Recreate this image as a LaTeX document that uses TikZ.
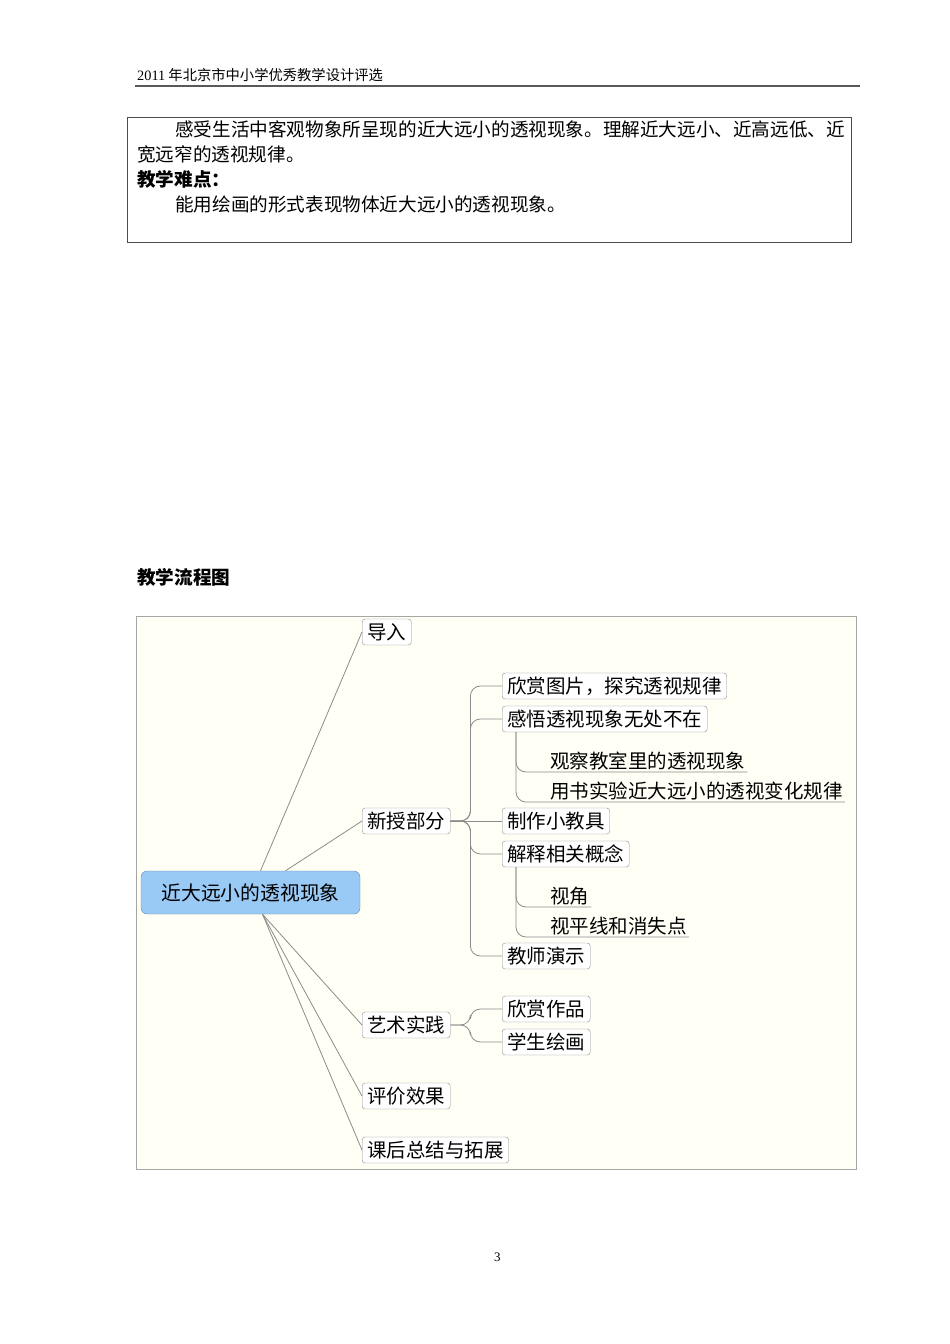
\documentclass[tikz,border=0pt]{standalone}
\usepackage{fontspec}
\setmainfont{Noto Sans CJK SC}
\newfontfamily\hdfont{Liberation Serif}
\definecolor{mapbg}{HTML}{FFFFF6}
\definecolor{rootblue}{HTML}{99C9F5}
\definecolor{linegray}{HTML}{8C8C8C}
\begin{document}
\begin{tikzpicture}[x=1pt,y=-1pt]
\tikzstyle{txt} = [anchor=base west,inner sep=0,font=\fontsize{18.6}{20}\selectfont];
\tikzstyle{topic} = [draw=linegray,rounded corners=3,fill=white,inner xsep=5,inner ysep=2,anchor=west,font=\fontsize{19.5}{21}\selectfont,minimum height=26];
\tikzstyle{leaf} = [anchor=south west,inner sep=2,font=\fontsize{19.5}{21}\selectfont];
\tikzstyle{conn} = [draw=linegray,line width=0.8];
\useasboundingbox (0,0) rectangle (950,1344);
\fill[white] (0,0) rectangle (950,1344);
% page header
\node[txt,font=\fontsize{14.3}{16}\selectfont] (hdr) at (137,80) {{\hdfont 2011} 年北京市中小学优秀教学设计评选};
\draw[line width=1.2,gray!70!black] (135,86) -- (860,86);
% text box
\draw[gray!60!black] (127,117) rectangle (851,242);
\node[txt] (p1) at (175,136) {感受生活中客观物象所呈现的近大远小的透视现象。理解近大远小、近高远低、近};
\node[txt] (p2) at (137,161) {宽远窄的透视规律。};
\node[txt,font=\fontsize{18.6}{20}\selectfont\bfseries] (p3) at (137,186) {教学难点：};
\node[txt] (p4) at (175,211) {能用绘画的形式表现物体近大远小的透视现象。};
\node[txt,font=\fontsize{18.6}{20}\selectfont\bfseries] (title) at (137,584) {教学流程图};
% mind map
\draw[gray!70,fill=mapbg] (136,616) rectangle (856,1169);
\node[draw=rootblue!70!black,fill=rootblue,rounded corners=6,minimum width=219,minimum height=43,font=\fontsize{19.8}{21}\selectfont] (root) at (250.5,892.5) {近大远小的透视现象};
\node[topic] (t1) at (362,632) {导入};
\node[topic] (t2) at (362,821) {新授部分};
\node[topic] (t3) at (362,1025) {艺术实践};
\node[topic] (t4) at (362,1096) {评价效果};
\node[topic] (t5) at (362,1150) {课后总结与拓展};
\node[topic] (s1) at (502,686) {欣赏图片，探究透视规律};
\node[topic] (s2) at (502,719) {感悟透视现象无处不在};
\node[topic] (s3) at (502,821) {制作小教具};
\node[topic] (s4) at (502,854) {解释相关概念};
\node[topic] (s5) at (502,956) {教师演示};
\node[topic] (s6) at (502,1009) {欣赏作品};
\node[topic] (s7) at (502,1042) {学生绘画};
\node[leaf] (l1) at (548,772) {观察教室里的透视现象};
\node[leaf] (l2) at (548,802) {用书实验近大远小的透视变化规律};
\node[leaf] (l3) at (548,907) {视角};
\node[leaf] (l4) at (548,937) {视平线和消失点};
\draw[conn] (root.north) ++(10,0) -- (t1.west);
\draw[conn] (root.north) ++(35,0) -- (t2.west);
\foreach \t in {t3,t4,t5} \draw[conn] (root.south) ++(12,0) -- (\t.west);
\foreach \s in {s1,s2,s4,s5} \draw[conn,rounded corners=10] (t2.east) -- ++(20,0) |- (\s.west);
\draw[conn] (t2.east) -- (s3.west);
\foreach \s in {s6,s7} \draw[conn,rounded corners=10] (t3.east) -- ++(20,0) |- (\s.west);
\foreach \l in {l1,l2} \draw[conn,rounded corners=10] (s2.south west) ++(14,0) |- (\l.south west) -- (\l.south east);
\foreach \l in {l3,l4} \draw[conn,rounded corners=10] (s4.south west) ++(14,0) |- (\l.south west) -- (\l.south east);
% page number
\node[txt,font=\hdfont\fontsize{13}{15}\selectfont] (pg) at (494,1261) {3};
\end{tikzpicture}
\end{document}
